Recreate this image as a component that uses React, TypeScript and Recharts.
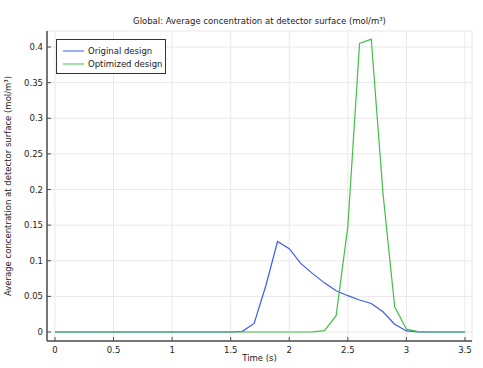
import { LineChart, Line, XAxis, YAxis, CartesianGrid, Legend } from "recharts"

const TIME = [
  0, 0.1, 0.2, 0.3, 0.4, 0.5, 0.6, 0.7, 0.8, 0.9, 1, 1.1, 1.2, 1.3, 1.4, 1.5, 1.6, 1.7, 1.8, 1.9, 2,
  2.1, 2.2, 2.3, 2.4, 2.5, 2.6, 2.7, 2.8, 2.9, 3, 3.1, 3.2, 3.3, 3.4, 3.5,
]
const ORIGINAL = [
  0, 0, 0, 0, 0, 0, 0, 0, 0, 0, 0, 0, 0, 0, 0, 0, 0.001, 0.012, 0.065, 0.127, 0.117,
  0.096, 0.082, 0.069, 0.058, 0.051, 0.045, 0.04, 0.0285, 0.011, 0.0015, 0.0002, 0, 0, 0, 0,
]
const OPTIMIZED = [
  0, 0, 0, 0, 0, 0, 0, 0, 0, 0, 0, 0, 0, 0, 0, 0, 0, 0, 0, 0, 0,
  0, 0.0003, 0.002, 0.023, 0.148, 0.405, 0.411, 0.195, 0.0355, 0.004, 0.0005, 0, 0, 0, 0,
]
const X_TICKS = [0, 0.5, 1, 1.5, 2, 2.5, 3, 3.5]
const Y_TICKS = [0, 0.05, 0.1, 0.15, 0.2, 0.25, 0.3, 0.35, 0.4]

const SERIES = [
  { key: "original", name: "Original design", color: "#3d5ce8", legendColor: "#7d95f2" },
  { key: "optimized", name: "Optimized design", color: "#44bf4a", legendColor: "#86d48c" },
]

const TITLE = "Global: Average concentration at detector surface (mol/m³)"
const X_LABEL = "Time (s)"
const Y_LABEL = "Average concentration at detector surface (mol/m³)"

const W = 483
const H = 368
const LEFT = 47
const TOP = 31
const RIGHT = 472
const BOTTOM = 341
const FONT = "'DejaVu Sans', sans-serif"
const FS = 8.5
const AXIS = "#4d4d4d"

const data = TIME.map((t, i) => ({ t, original: ORIGINAL[i], optimized: OPTIMIZED[i] }))

function BottomTick({ x, payload }: any) {
  return (
    <g>
      <line x1={x} x2={x} y1={BOTTOM} y2={BOTTOM - 4} stroke={AXIS} />
      <text x={x} y={BOTTOM + 12} textAnchor="middle" fontSize={FS} fill="#222" fontFamily={FONT}>
        {payload.value}
      </text>
    </g>
  )
}

function TopTick({ x }: any) {
  return <line x1={x} x2={x} y1={TOP} y2={TOP + 4} stroke={AXIS} />
}

function LeftTick({ y, payload }: any) {
  return (
    <g>
      <line x1={LEFT} x2={LEFT + 4} y1={y} y2={y} stroke={AXIS} />
      <text x={LEFT - 4} y={y + 3} textAnchor="end" fontSize={FS} fill="#222" fontFamily={FONT}>
        {payload.value}
      </text>
    </g>
  )
}

function RightTick({ y }: any) {
  return <line x1={RIGHT} x2={RIGHT - 4} y1={y} y2={y} stroke={AXIS} />
}

function LegendBox() {
  return (
    <div
      style={{
        width: 110,
        height: 35,
        boxSizing: "border-box",
        border: "1px solid #333",
        background: "#fff",
        padding: "5px 0 0 6px",
        fontFamily: FONT,
        fontSize: FS,
        color: "#222",
        lineHeight: "12.5px",
      }}
    >
      {SERIES.map((s) => (
        <div key={s.key} style={{ display: "flex", alignItems: "center", height: 12.5 }}>
          <svg width={21} height={4} style={{ marginRight: 4 }}>
            <line x1={0} x2={21} y1={2} y2={2} stroke={s.legendColor} strokeWidth={1.5} />
          </svg>
          <span>{s.name}</span>
        </div>
      ))}
    </div>
  )
}

function Titles() {
  const cy = (TOP + BOTTOM) / 2
  return (
    <g fontSize={FS} fill="#222" fontFamily={FONT}>
      <text x={(LEFT + RIGHT) / 2} y={24} textAnchor="middle">
        {TITLE}
      </text>
      <text x={(LEFT + RIGHT) / 2} y={361} textAnchor="middle">
        {X_LABEL}
      </text>
      <text x={11} y={cy} transform={`rotate(-90 11 ${cy})`} textAnchor="middle">
        {Y_LABEL}
      </text>
    </g>
  )
}

export default function App() {
  return (
    <div style={{ position: "absolute", left: 0, top: 0, width: W, height: H, background: "#fff" }}>
      <LineChart
        width={W}
        height={H}
        data={data}
        margin={{ top: TOP, right: W - RIGHT, bottom: 0, left: 0 }}
      >
        <CartesianGrid stroke="#e8e8e8" strokeWidth={1} />
        <XAxis
          dataKey="t"
          type="number"
          domain={[-0.068, 3.56]}
          ticks={X_TICKS}
          height={H - BOTTOM}
          tickSize={0}
          tickLine={false}
          tick={<BottomTick />}
          axisLine={{ stroke: AXIS, strokeWidth: 1.5 }}
          allowDataOverflow
          label={{ content: () => <Titles /> }}
        />
        <XAxis
          xAxisId="top"
          orientation="top"
          dataKey="t"
          type="number"
          domain={[-0.068, 3.56]}
          ticks={X_TICKS}
          height={0}
          tickSize={0}
          tickLine={false}
          tick={<TopTick />}
          axisLine={{ stroke: AXIS, strokeWidth: 1.5 }}
          allowDataOverflow
        />
        <YAxis
          type="number"
          domain={[-0.0126, 0.4225]}
          ticks={Y_TICKS}
          width={LEFT}
          tickSize={0}
          tickLine={false}
          tick={<LeftTick />}
          axisLine={{ stroke: AXIS, strokeWidth: 1.5 }}
          allowDataOverflow
        />
        <YAxis
          yAxisId="right"
          orientation="right"
          type="number"
          domain={[-0.0126, 0.4225]}
          ticks={Y_TICKS}
          width={0}
          tickSize={0}
          tickLine={false}
          tick={<RightTick />}
          axisLine={{ stroke: AXIS, strokeWidth: 1.5 }}
          allowDataOverflow
        />
        {SERIES.map((s) => (
          <Line
            key={s.key}
            dataKey={s.key}
            name={s.name}
            stroke={s.color}
            strokeWidth={1.2}
            dot={false}
            type="linear"
            isAnimationActive={false}
          />
        ))}
        <Legend
          layout="vertical"
          align="center"
          verticalAlign="middle"
          wrapperStyle={{ left: 56, top: 39, width: 110 }}
          content={() => <LegendBox />}
        />
      </LineChart>
    </div>
  )
}
